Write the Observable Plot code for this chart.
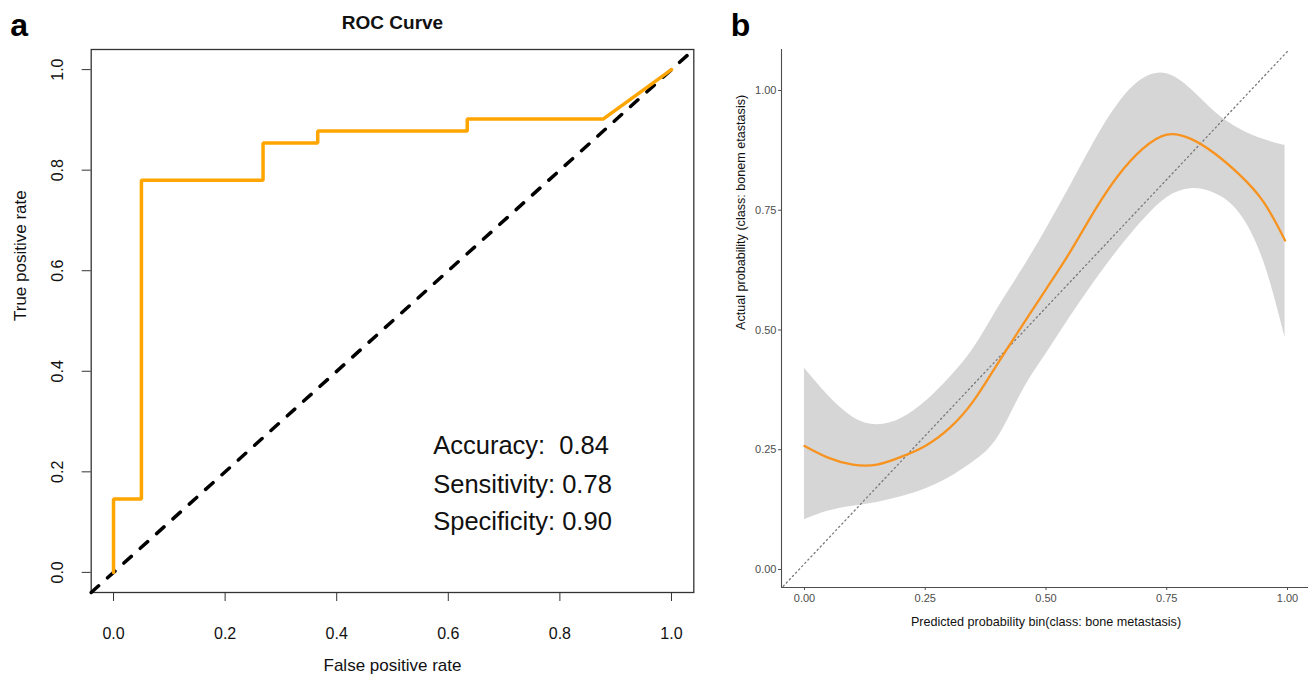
<!DOCTYPE html>
<html><head><meta charset="utf-8">
<script src="https://cdn.jsdelivr.net/npm/d3@7"></script>
<script src="https://cdn.jsdelivr.net/npm/@observablehq/plot@0.6"></script>
<style>
body{margin:0;background:#fff;}
#wrap{position:relative;width:1309px;height:674px;overflow:hidden;background:#fff;}
#pa{position:absolute;left:0;top:0;}
#pb{position:absolute;left:700px;top:0;}
</style></head><body><div id="wrap"><div id="pa"></div><div id="pb"></div></div>
<script>
// ---------- Panel a: ROC curve ----------
const rocFpr = [0, 0, 0.05, 0.05, 0.268, 0.268, 0.366, 0.366, 0.634, 0.634, 0.878, 1];
const rocTpr = [0, 0.146, 0.146, 0.78, 0.78, 0.854, 0.854, 0.878, 0.878, 0.902, 0.902, 1];
const rocTicks = [0, 0.2, 0.4, 0.6, 0.8, 1.0];
const rocDomain = [-0.04, 1.04];
const statLabels = ["Accuracy:\u00a0 0.84", "Sensitivity: 0.78", "Specificity: 0.90"];
const statY = [0.252, 0.175, 0.101];
const statX = [0.573, 0.573, 0.573];

// ---------- Panel b: calibration ----------
const calX   = [0, 0.05, 0.10, 0.15, 0.20, 0.25, 0.30, 0.35, 0.40, 0.45, 0.50, 0.55, 0.60, 0.65, 0.70, 0.75, 0.80, 0.85, 0.90, 0.95, 0.995];
const calFit = [0.258, 0.233, 0.219, 0.219, 0.235, 0.258, 0.295, 0.352, 0.430, 0.508, 0.585, 0.663, 0.748, 0.823, 0.878, 0.908, 0.899, 0.868, 0.825, 0.768, 0.687];
const calHi  = [0.420, 0.362, 0.318, 0.302, 0.315, 0.350, 0.400, 0.462, 0.545, 0.625, 0.710, 0.800, 0.893, 0.973, 1.024, 1.035, 1.003, 0.955, 0.920, 0.898, 0.885];
const calLo  = [0.104, 0.122, 0.132, 0.140, 0.152, 0.168, 0.192, 0.225, 0.275, 0.370, 0.450, 0.527, 0.600, 0.668, 0.728, 0.776, 0.795, 0.785, 0.745, 0.645, 0.484];
const calTicks = [0, 0.25, 0.5, 0.75, 1.0];
const diagX = [-0.044, 1.004];
const diagY = [-0.035, 1.086];
const calXDomain = [-0.0476, 1.0435];
const calYDomain = [-0.0376, 1.0856];

const FONT = "'Liberation Sans', Arial, Helvetica, sans-serif";

// Panel a
const rocData = rocFpr.map((x, i) => ({x, y: rocTpr[i]}));
const diagA = rocDomain.map(v => ({x: v, y: v}));
const stats = statLabels.map((t, i) => ({t, x: statX[i], y: statY[i]}));

const plotA = Plot.plot({
  width: 700, height: 674,
  marginLeft: 90.7, marginRight: 6.7, marginTop: 49, marginBottom: 82,
  style: {fontFamily: FONT, background: "white", overflow: "visible"},
  x: {domain: rocDomain, axis: null},
  y: {domain: rocDomain, axis: null},
  marks: [
    Plot.frame({stroke: "#333", strokeWidth: 1.3}),
    Plot.axisX({ticks: rocTicks, label: null, tickSize: 9, tickPadding: 26, tickFormat: d3.format(".1f"), fontSize: 16, stroke: "#333", color: "#111"}),
    Plot.axisY({ticks: rocTicks, label: null, tickSize: 9, tickFormat: () => "", stroke: "#333"}),
    Plot.text(rocTicks, {y: d => d, frameAnchor: "left", dx: -33, rotate: -90, text: d => d.toFixed(1), fontSize: 16, fill: "#111", textAnchor: "middle", lineAnchor: "middle"}),
    Plot.line(diagA, {x: "x", y: "y", stroke: "#000", strokeWidth: 3.5, strokeDasharray: "10,12", strokeLinecap: "round"}),
    Plot.line(rocData, {x: "x", y: "y", stroke: "#FFA500", strokeWidth: 3.5, strokeLinejoin: "miter"}),
    Plot.text(stats, {x: "x", y: "y", text: "t", textAnchor: "start", fontSize: 25.5, fill: "#111", lineAnchor: "middle"}),
    Plot.text(["ROC Curve"], {x: 0.5, frameAnchor: "top", dy: -27, text: d => d, fontSize: 19, fontWeight: "bold", fill: "#111", lineAnchor: "middle"}),
    Plot.text(["False positive rate"], {x: 0.5, frameAnchor: "bottom", dy: 73, text: d => d, fontSize: 17, fill: "#111", lineAnchor: "middle"}),
    Plot.text(["True positive rate"], {y: 0.5, frameAnchor: "left", dx: -71, rotate: -90, text: d => d, fontSize: 17, fill: "#111", lineAnchor: "middle"}),
    Plot.text(["a"], {frameAnchor: "top-left", dx: -72, dy: -24, text: d => d, fontSize: 32, fontWeight: "bold", fill: "#000", lineAnchor: "middle", textAnchor: "middle"})
  ]
});
document.getElementById("pa").appendChild(plotA);

// Panel b
const cal = calX.map((x, i) => ({x, fit: calFit[i], lo: calLo[i], hi: calHi[i]}));
const diagB = diagX.map((x, i) => ({x, y: diagY[i]}));

const plotB = Plot.plot({
  width: 609, height: 674,
  marginLeft: 81, marginRight: 1, marginTop: 49, marginBottom: 87,
  style: {fontFamily: FONT, background: "white", overflow: "visible"},
  x: {domain: calXDomain, axis: null},
  y: {domain: calYDomain, axis: null},
  marks: [
    Plot.areaY(cal, {x: "x", y1: "lo", y2: "hi", fill: "#999999", fillOpacity: 0.4, curve: "natural"}),
    Plot.line(diagB, {x: "x", y: "y", stroke: "#777", strokeWidth: 1.3, strokeDasharray: "1.3,3.2", clip: true}),
    Plot.line(cal, {x: "x", y: "fit", stroke: "#F7931E", strokeWidth: 2.3, curve: "natural"}),
    Plot.ruleX([calXDomain[0]], {stroke: "#4d4d4d", strokeWidth: 1.1}),
    Plot.ruleY([calYDomain[0]], {stroke: "#4d4d4d", strokeWidth: 1.1}),
    Plot.axisX({ticks: calTicks, label: null, tickSize: 3, tickPadding: 4, tickFormat: d3.format(".2f"), fontSize: 11, stroke: "#4d4d4d", color: "#4d4d4d"}),
    Plot.axisY({ticks: calTicks, label: null, tickSize: 3, tickPadding: 2, tickFormat: d3.format(".2f"), fontSize: 11, stroke: "#4d4d4d", color: "#4d4d4d"}),
    Plot.text(["Predicted probability bin(class: bone metastasis)"], {x: 0.5, frameAnchor: "bottom", dy: 34, text: d => d, fontSize: 12.6, fill: "#111", lineAnchor: "middle"}),
    Plot.text(["Actual probability (class: bonem etastasis)"], {y: 0.5, frameAnchor: "left", dx: -41, rotate: -90, text: d => d, fontSize: 12.6, fill: "#111", lineAnchor: "middle"}),
    Plot.text(["b"], {frameAnchor: "top-left", dx: -41, dy: -24, text: d => d, fontSize: 32, fontWeight: "bold", fill: "#000", lineAnchor: "middle", textAnchor: "middle"})
  ]
});
document.getElementById("pb").appendChild(plotB);
</script>
</body></html>
